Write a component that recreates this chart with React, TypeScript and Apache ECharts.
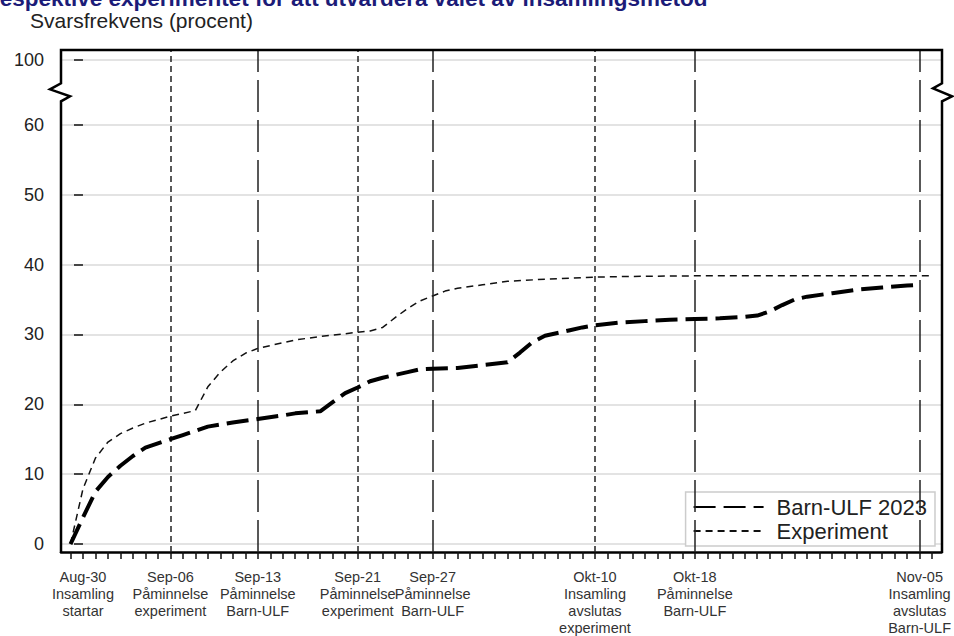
import React, { useEffect, useRef } from "react";
import * as echarts from "echarts";

// ---- Data (day index: 0 = Aug-30-2023) ----
const BARN_DAYS = [-1, 0, 1, 2, 3, 4, 5, 6, 7, 8, 9, 10, 11, 12, 14, 16, 17, 19, 20, 21, 22, 23, 24, 25, 26, 27, 28, 30, 32, 34, 35, 36, 37, 38, 39, 40, 41, 43, 45, 47, 49, 51, 53, 54, 55, 56, 57, 58, 60, 62, 64, 66, 67];
const BARN_VALUES = [0, 3.8, 7.5, 9.6, 11.2, 12.6, 13.8, 14.4, 15.0, 15.6, 16.2, 16.8, 17.1, 17.4, 17.9, 18.4, 18.7, 19.0, 20.3, 21.6, 22.4, 23.3, 23.8, 24.2, 24.6, 25.0, 25.1, 25.2, 25.6, 26.0, 27.4, 28.9, 29.8, 30.2, 30.6, 31.0, 31.3, 31.7, 31.9, 32.1, 32.2, 32.3, 32.5, 32.7, 33.3, 34.2, 35.0, 35.4, 35.9, 36.4, 36.7, 37.0, 37.1];

const EXP_DAYS = [-1, 0, 1, 2, 3, 4, 5, 6, 7, 8, 9, 10, 11, 12, 13, 14, 15, 17, 19, 21, 23, 24, 25, 26, 27, 28, 29, 30, 32, 34, 37, 41, 44, 50, 60, 68];
const EXP_VALUES = [0, 7.9, 12.3, 14.6, 15.8, 16.6, 17.3, 17.8, 18.3, 18.7, 19.1, 22.5, 24.6, 26.2, 27.3, 28.0, 28.4, 29.2, 29.7, 30.1, 30.5, 31.0, 32.4, 33.7, 34.8, 35.5, 36.2, 36.6, 37.1, 37.6, 37.9, 38.2, 38.3, 38.4, 38.4, 38.4];

const X_LABEL_DAYS = [0, 7, 14, 22, 28, 41, 49, 67];
const X_LABEL_TEXTS = [
  "Aug-30\nInsamling\nstartar",
  "Sep-06\nPåminnelse\nexperiment",
  "Sep-13\nPåminnelse\nBarn-ULF",
  "Sep-21\nPåminnelse\nexperiment",
  "Sep-27\nPåminnelse\nBarn-ULF",
  "Okt-10\nInsamling\navslutas\nexperiment",
  "Okt-18\nPåminnelse\nBarn-ULF",
  "Nov-05\nInsamling\navslutas\nBarn-ULF",
];
const EXPERIMENT_EVENT_DAYS = [7, 22, 41];
const BARN_EVENT_DAYS = [14, 28, 49, 67];

const Y_TICKS = [0, 10, 20, 30, 40, 50, 60, 100];
const Y_BREAK_FROM = 60;
const Y_BREAK_GAP = 9.3; // axis units used to draw the 60 -> 100 break

const SERIES_NAMES = ["Barn-ULF 2023", "Experiment"];
const Y_NAME = "Svarsfrekvens (procent)";
const TITLE = "respektive experimentet för att utvärdera valet av insamlingsmetod";

// map real tick value to axis position (the 60 -> 100 span is compressed by a break)
const yPos = (v: number) => (v <= Y_BREAK_FROM ? v : Y_BREAK_FROM + Y_BREAK_GAP + (v - 100));
const yLabel = (p: number) => (p <= Y_BREAK_FROM + 0.01 ? String(Math.round(p)) : String(Math.round(p - Y_BREAK_FROM - Y_BREAK_GAP + 100)));

const X_MIN = -1.76;
const X_MAX = 68.76;
const Y_MIN = -1.14;
const Y_MAX = 70.7;

const G_LEFT = 61;
const G_RIGHT = 12;
const G_TOP = 50;
const G_BOTTOM = 83;

const FONT = "Liberation Sans, Arial, sans-serif";

export default function App() {
  const ref = useRef<HTMLDivElement>(null);
  useEffect(() => {
    if (!ref.current) return;
    const chart = echarts.init(ref.current, undefined, { renderer: "svg" });
    const W = 954;
    const H = 636;
    const x1 = G_LEFT;
    const x2 = W - G_RIGHT;
    const y1 = G_TOP;
    const y2 = H - G_BOTTOM;
    const pxPerUnit = (y2 - y1) / (Y_MAX - Y_MIN);
    const breakY = y2 - (Y_BREAK_FROM + Y_BREAK_GAP / 2 - Y_MIN) * pxPerUnit;

    const xTicks: number[] = [];
    for (let d = Math.ceil(X_MIN); d <= Math.floor(X_MAX); d++) xTicks.push(d);

    const frame = "#000";
    const option: any = {
      animation: false,
      backgroundColor: "#fff",
      textStyle: { fontFamily: FONT },
      grid: { left: G_LEFT, right: G_RIGHT, top: G_TOP, bottom: G_BOTTOM, containLabel: false },
      legend: {
        data: SERIES_NAMES,
        orient: "vertical",
        right: 19,
        top: 492,
        itemWidth: 70,
        itemHeight: 14,
        itemGap: 2,
        padding: [4, 8, 4, 7],
        backgroundColor: "#fff",
        borderColor: "#cccccc",
        borderWidth: 1.5,
        borderRadius: 0,
        itemStyle: { opacity: 0 },
        textStyle: { fontSize: 22, color: "#222", padding: [0, 0, 0, 8] },
      },
      xAxis: {
        type: "value",
        min: X_MIN,
        max: X_MAX,
        axisLine: { show: true, onZero: false, lineStyle: { color: frame, width: 2.5 } },
        axisTick: { show: true, inside: false, length: 7, customValues: xTicks, lineStyle: { color: "#111", width: 1.5 } },
        axisLabel: {
          customValues: X_LABEL_DAYS,
          margin: 16,
          fontSize: 14.5,
          lineHeight: 17,
          color: "#333",
          align: "center",
          formatter: (v: number) => {
            const i = X_LABEL_DAYS.indexOf(Math.round(v));
            return i >= 0 ? X_LABEL_TEXTS[i] : "";
          },
        },
        splitLine: { show: false },
      },
      yAxis: {
        type: "value",
        min: Y_MIN,
        max: Y_MAX,
        axisLine: { show: false },
        axisTick: { show: true, inside: false, length: 9, customValues: Y_TICKS.map(yPos), lineStyle: { color: "#111", width: 1.5 } },
        axisLabel: {
          customValues: Y_TICKS.map(yPos),
          margin: 17,
          fontSize: 18,
          color: "#222",
          formatter: (p: number) => yLabel(p),
        },
        splitLine: { show: true, lineStyle: { color: "#e3e3e3", width: 2 } },
      },
      graphic: [
        {
          type: "text",
          left: -9,
          top: -13,
          style: { text: TITLE, fontSize: 22.5, fontWeight: "bold", fill: "#1c1c78", fontFamily: FONT },
        },
        {
          type: "text",
          left: 30,
          top: 10,
          style: { text: Y_NAME, fontSize: 21, fill: "#222", fontFamily: FONT },
        },
        {
          type: "polyline",
          z: 10,
          shape: {
            points: [
              [x1, y2],
              [x1, breakY + 9],
              [x1 + 9, breakY + 4],
              [x1 - 11, breakY - 3],
              [x1, breakY - 9],
              [x1, y1],
              [x2, y1],
              [x2, breakY - 9],
              [x2 - 9, breakY - 4],
              [x2 + 10, breakY + 4],
              [x2, breakY + 9],
              [x2, y2],
            ],
          },
          style: { stroke: frame, lineWidth: 2.5, fill: null },
        },
      ],
      series: [
        {
          name: SERIES_NAMES[0],
          type: "line",
          data: BARN_DAYS.map((d, i) => [d, BARN_VALUES[i]]),
          showSymbol: false,
          symbol: "none",
          z: 5,
          lineStyle: { color: "#000", width: 4, type: [22, 8], cap: "butt" },
          itemStyle: { color: "#000" },
          markLine: {
            silent: true,
            symbol: "none",
            label: { show: false },
            lineStyle: { color: "#222", width: 1.5, type: [32, 8] },
            data: BARN_EVENT_DAYS.map((d) => ({ xAxis: d })),
          },
        },
        {
          name: SERIES_NAMES[1],
          type: "line",
          data: EXP_DAYS.map((d, i) => [d, EXP_VALUES[i]]),
          showSymbol: false,
          symbol: "none",
          z: 4,
          lineStyle: { color: "#111", width: 1.5, type: [7, 5] },
          itemStyle: { color: "#111" },
          markLine: {
            silent: true,
            symbol: "none",
            label: { show: false },
            lineStyle: { color: "#222", width: 1.5, type: [6, 4] },
            data: EXPERIMENT_EVENT_DAYS.map((d) => ({ xAxis: d })),
          },
        },
      ],
    };
    chart.setOption(option);
    return () => chart.dispose();
  }, []);
  return <div ref={ref} style={{ width: 954, height: 636, position: "absolute", left: 0, top: 0 }} />;
}
